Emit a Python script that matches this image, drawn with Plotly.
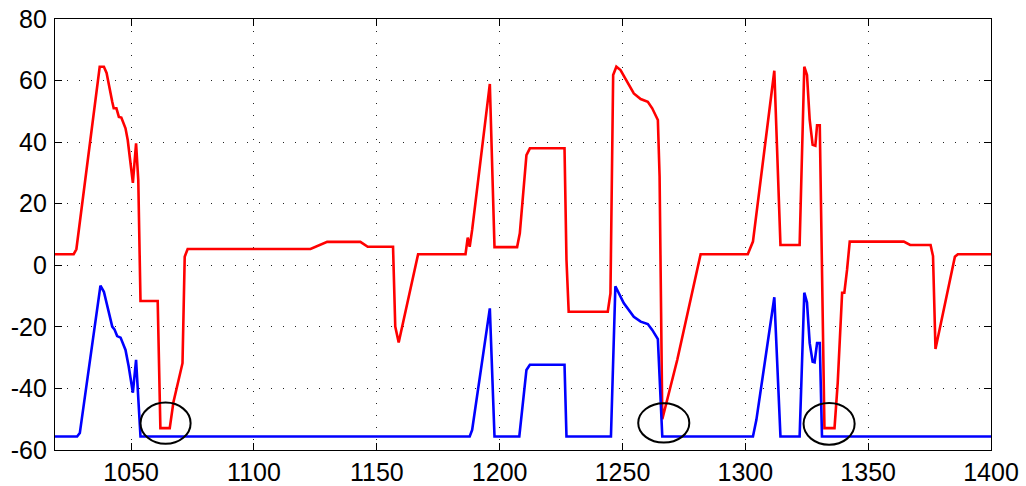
import plotly.graph_objects as go

# Upper trace (red)
red_x = [1019, 1026.6, 1027.7, 1037.2, 1038.9, 1040, 1042.3, 1042.9, 1044, 1045, 1046,
         1047.7, 1048.6, 1050.7, 1052, 1052.9, 1053.8, 1060.8, 1061.9, 1065.7, 1067.2,
         1070.9, 1071.8, 1073, 1123, 1125, 1129.8, 1143.3, 1144.4, 1146.3, 1156.6,
         1157.5, 1158.9, 1166.8, 1186.1, 1187, 1187.8, 1188.8, 1196, 1197.9, 1207.1,
         1208.2, 1210.9, 1212.3, 1226.4, 1227.2, 1228.1, 1244, 1245.1, 1246.2, 1247.5,
         1249.2, 1254.6, 1257.4, 1260.3, 1262.1, 1264.4, 1265.1, 1266.2, 1272.3, 1281.8,
         1301, 1303.1, 1311.8, 1314.3, 1322.1, 1324, 1325.1, 1326.2, 1327.4, 1328.5,
         1329.2, 1330.3, 1332.2, 1336.3, 1337.6, 1339.4, 1340.3, 1341.4, 1342.5, 1364.5,
         1367.1, 1375.4, 1376.4, 1377.4, 1385.3, 1386.5, 1400]
red_y = [3.6, 3.6, 5.2, 64.5, 64.5, 62.5, 53.1, 51, 51, 48.2, 48,
         44.5, 40.7, 26.8, 39.6, 27.7, -11.6, -11.6, -52.9, -52.9, -44.5,
         -31.8, 2.8, 5.3, 5.3, 6.0, 7.6, 7.6, 6.9, 6.0, 6.0,
         -19.9, -25.1, 3.6, 3.6, 9.0, 6.0, 11.5, 58.9, 5.9, 5.9,
         10.4, 35.8, 38.0, 38.0, 1.7, -15.1, -15.1, -9.1, 61.8, 64.5,
         63.4, 55.8, 54, 53.1, 51, 47.2, 28.8, -50, -30.7, 3.6,
         3.6, 7.7, 63.2, 6.6, 6.6, 64.5, 61.8, 47.2, 39.1, 38.8,
         45.5, 45.5, -52.9, -52.9, -38.3, -8.9, -8.9, -1.5, 7.7, 7.7,
         6.6, 6.6, 3.0, -27.2, 2.8, 3.6, 3.6]

# Lower trace (blue)
blue_x = [1019, 1028, 1029.1, 1037.5, 1038.9, 1042.3, 1043.2, 1044.3, 1045.7, 1047.7,
          1049, 1050.7, 1052, 1052.9, 1053.8, 1187.8, 1188.8, 1196, 1197.9, 1208,
          1209.1, 1210.9, 1212.3, 1226.4, 1227.2, 1245.3, 1247.1, 1250.5, 1254.6, 1257.4,
          1260.3, 1262.1, 1264.4, 1266.2, 1303.1, 1304.5, 1311.8, 1314.3, 1322.1, 1324,
          1325.1, 1326.2, 1327.4, 1328.2, 1329.2, 1330.3, 1331.2, 1400]
blue_y = [-55.6, -55.6, -54.5, -6.6, -8.6, -19.9, -20.8, -23, -23.5, -27.5,
          -32.9, -41.4, -30.7, -41.6, -55.6, -55.6, -53.5, -14, -55.6, -55.6,
          -48, -34, -32.3, -32.3, -55.6, -55.6, -6.8, -12.3, -16.7, -18.3,
          -19.1, -21, -24, -55.6, -55.6, -50.2, -10.4, -55.6, -55.6, -8.9,
          -12.1, -25.3, -31.3, -31.5, -25.3, -25.3, -55.6, -55.6]

# Highlight ellipses: centre x, centre y, half-width (x units), half-height (y units)
mark_cx = [1064.0, 1266.8, 1334.1]
mark_cy = [-51.3, -51.2, -51.5]
mark_rx = [10.2, 10.4, 10.4]
mark_ry = [6.7, 6.4, 6.8]

x_ticks = [1050, 1100, 1150, 1200, 1250, 1300, 1350, 1400]
y_ticks = [-60, -40, -20, 0, 20, 40, 60, 80]

fig = go.Figure()
fig.add_trace(go.Scatter(x=red_x, y=red_y, mode="lines",
                         line=dict(color="#ff0000", width=2.6), showlegend=False))
fig.add_trace(go.Scatter(x=blue_x, y=blue_y, mode="lines",
                         line=dict(color="#0000ff", width=2.6), showlegend=False))

for cx, cy, rx, ry in zip(mark_cx, mark_cy, mark_rx, mark_ry):
    fig.add_shape(type="circle", xref="x", yref="y",
                  x0=cx - rx, x1=cx + rx, y0=cy - ry, y1=cy + ry,
                  line=dict(color="black", width=2))

axis_common = dict(
    showline=True, linecolor="black", linewidth=1.2, mirror="ticks",
    ticks="inside", ticklen=7, tickcolor="black", tickwidth=1,
    showgrid=True, gridcolor="#222222", gridwidth=1, griddash="1px,11px",
    zeroline=False, automargin=False,
    tickfont=dict(family="Liberation Sans", size=25, color="black"),
)

fig.update_xaxes(range=[1019, 1400], tickvals=x_ticks,
                 ticktext=[str(v) for v in x_ticks], ticklabelstandoff=0,
                 **axis_common)
fig.update_yaxes(range=[-60, 80], tickvals=y_ticks,
                 ticktext=[str(v) for v in y_ticks], ticklabelstandoff=2,
                 **axis_common)

fig.update_layout(
    width=1026, height=486,
    margin=dict(l=55, r=35, t=19, b=36),
    paper_bgcolor="white", plot_bgcolor="white",
)

fig.write_html("out.html")
